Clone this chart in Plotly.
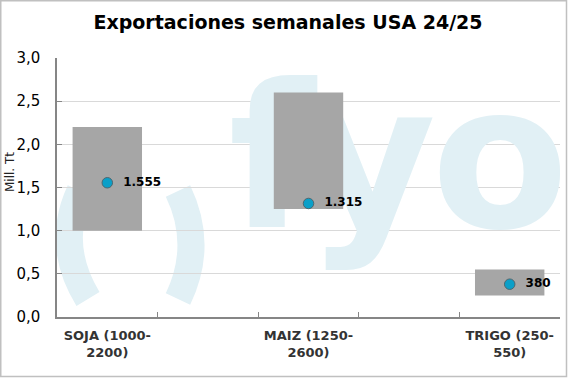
import plotly.graph_objects as go

# ---------------- data ----------------
title_text = "Exportaciones semanales USA 24/25"
categories = ["SOJA (1000-2200)", "MAIZ (1250-2600)", "TRIGO (250-550)"]
category_labels = ["SOJA (1000-<br>2200)", "MAIZ (1250-<br>2600)", "TRIGO (250-<br>550)"]
range_low_kt = [1000, 1250, 250]
range_high_kt = [2200, 2600, 550]
weekly_kt = [1555, 1315, 380]
y_ticks = [0, 0.5, 1.0, 1.5, 2.0, 2.5, 3.0]
y_title = "Mill. Tt"
watermark = ["f", "y", "o"]

# ---------------- layout constants ----------------
W, H = 568, 379
L, R, T, B = 57, 8, 58, 62
PW, PH = W - L - R, H - T - B
FONT = "Verdana, DejaVu Sans, sans-serif"
WM_COLOR = "#e1f0f5"


def px_x(p):
    return (p - L) / PW


def px_y(p):
    return (H - B - p) / PH


# category order with spacer slots (original chart leaves empty slots between groups)
spacers = ["\u200b", "\u200b\u200b"]
cat_order = [categories[0], spacers[0], categories[1], spacers[1], categories[2]]
tick_text = [category_labels[0], "", category_labels[1], "", category_labels[2]]

fig = go.Figure()

# watermark on the base (hidden) axes, drawn beneath the data subplot
wm_x = [px_x(272), px_x(371), px_x(500)]
wm_y = [px_y(177)] * 3
fig.add_trace(go.Scatter(
    x=wm_x, y=wm_y, mode="text", text=watermark,
    textposition="middle center",
    textfont=dict(family="DejaVu Sans", size=200, color=WM_COLOR, weight="bold"),
    hoverinfo="skip", showlegend=False, cliponaxis=True,
    xaxis="x", yaxis="y",
))

# range bars (floating)
fig.add_trace(go.Bar(
    x=categories,
    y=[(h - l) / 1000 for l, h in zip(range_low_kt, range_high_kt)],
    base=[l / 1000 for l in range_low_kt],
    width=0.69,
    marker=dict(color="#a6a6a6", line=dict(width=0)),
    showlegend=False, hoverinfo="skip",
    xaxis="x2", yaxis="y2",
))

# weekly export points
fig.add_trace(go.Scatter(
    x=categories,
    y=[v / 1000 for v in weekly_kt],
    customdata=weekly_kt,
    mode="markers+text",
    texttemplate="  %{customdata:,}",
    textposition="middle right",
    textfont=dict(family=FONT, size=12, color="black", weight="bold"),
    marker=dict(size=10.5, color="#0a9fc8", line=dict(color="#4d6770", width=1)),
    showlegend=False, cliponaxis=False,
    xaxis="x2", yaxis="y2",
))

# decorative watermark arcs + figure border
shapes = []
arcs = [((80, 191), (55, 245), (88, 299)), ((178, 191), (204, 245), (178, 299))]
for (p0, c, p2) in arcs:
    shapes.append(dict(
        type="path", xref="x", yref="y", layer="below",
        path=f"M {px_x(p0[0])},{px_y(p0[1])} Q {px_x(c[0])},{px_y(c[1])} {px_x(p2[0])},{px_y(p2[1])}",
        line=dict(color=WM_COLOR, width=27),
    ))
shapes.append(dict(
    type="rect", xref="paper", yref="paper",
    x0=px_x(0.75), x1=px_x(566.5), y0=px_y(376.5), y1=px_y(0.75),
    line=dict(color="#c0c0c0", width=1.5), fillcolor="rgba(0,0,0,0)", layer="above",
))

fig.update_layout(
    width=W, height=H,
    margin=dict(l=L, r=R, t=T, b=B, autoexpand=False),
    paper_bgcolor="white", plot_bgcolor="white",
    separators=",.",
    showlegend=False,
    title=dict(text=f"<b>{title_text}</b>", x=288 / W, xref="container", xanchor="center",
               y=1 - 22 / H, yref="container", yanchor="middle",
               font=dict(family=FONT, size=19, color="black")),
    xaxis=dict(range=[0, 1], visible=False, fixedrange=True, automargin=False),
    yaxis=dict(range=[0, 1], visible=False, fixedrange=True, automargin=False),
    xaxis2=dict(
        overlaying="x", anchor="y2", side="bottom", automargin=False,
        type="category", categoryorder="array", categoryarray=cat_order,
        tickmode="array", tickvals=cat_order, ticktext=tick_text,
        range=[-0.5, 4.5], tickson="boundaries",
        ticks="inside", ticklen=5, tickcolor="#868686", tickwidth=1,
        showline=True, linecolor="#868686", linewidth=1.5,
        showgrid=False, zeroline=False,
        tickfont=dict(family=FONT, size=13, color="#333333", weight="bold"),
        ticklabelstandoff=6,
    ),
    yaxis2=dict(
        overlaying="y", anchor="x2", side="left", automargin=False,
        range=[0, 3], tickmode="array", tickvals=y_ticks, tickformat=".1f",
        ticks="inside", ticklen=5, tickcolor="#868686",
        showline=True, linecolor="#868686", linewidth=1.5,
        showgrid=True, gridcolor="#d9d9d9", gridwidth=1, zeroline=False,
        tickfont=dict(family=FONT, size=15, color="black"),
        ticklabelstandoff=12,
    ),
    shapes=shapes,
    annotations=[dict(
        text=y_title, textangle=-90, xref="paper", yref="paper",
        x=px_x(10), y=px_y(172), xanchor="center", yanchor="middle",
        showarrow=False, font=dict(family=FONT, size=12, color="#222222"),
    )],
)

fig.write_html("out.html", config={"displayModeBar": False},
               post_script="document.body.style.margin='0px';")
